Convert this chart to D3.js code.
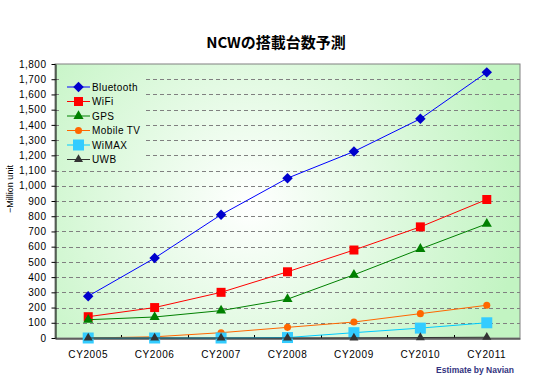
<!DOCTYPE html>
<html>
<head>
<meta charset="utf-8">
<script src="https://cdn.jsdelivr.net/npm/d3@7"></script>
<style>
  body { margin: 0; background: #fff; }
  text { font-family: "Liberation Sans", Arial, sans-serif; }
</style>
</head>
<body>
<div id="chart"></div>
<script>
// data (million units)
const years = ["CY2005", "CY2006", "CY2007", "CY2008", "CY2009", "CY2010", "CY2011"];
const bluetooth = [275, 525, 810, 1050, 1225, 1440, 1745];
const wifi = [140, 200, 300, 435, 578, 730, 910];
const gps = [120, 138, 180, 255, 415, 585, 750];
const mobileTV = [0, 8, 35, 70, 105, 160, 215];
const wimax = [0, 0, 0, 3, 35, 65, 100];
const uwb = [0, 0, 0, 0, 1, 3, 5];
const yTicks = d3.range(0, 1801, 100);

const series = [
  { name: "Bluetooth", values: bluetooth, color: "#0000ff", mark: "#0000cc", shape: "diamond", size: 10 },
  { name: "WiFi", values: wifi, color: "#ff0000", mark: "#ff0000", shape: "square", size: 9 },
  { name: "GPS", values: gps, color: "#008000", mark: "#008000", shape: "triangle", size: 9 },
  { name: "Mobile TV", values: mobileTV, color: "#ff6600", mark: "#ff6600", shape: "circle", size: 7 },
  { name: "WiMAX", values: wimax, color: "#00ccff", mark: "#33ccff", shape: "square", size: 11 },
  { name: "UWB", values: uwb, color: "#333333", mark: "#333333", shape: "triangle", size: 8 }
];

const width = 547, height = 377;
const plotL = 55, plotR = 520, plotT = 64, plotB = 338;

const svg = d3.select("#chart")
  .append("svg")
  .attr("width", width)
  .attr("height", height);

const defs = svg.append("defs");
const grad = defs.append("radialGradient")
  .attr("id", "bg")
  .attr("gradientUnits", "userSpaceOnUse")
  .attr("cx", 250).attr("cy", 205).attr("r", 270);
grad.append("stop").attr("offset", "0%").attr("stop-color", "#ffffff");
grad.append("stop").attr("offset", "100%").attr("stop-color", "#c2f4c2");

const x = d3.scaleBand()
  .domain(years)
  .range([plotL, plotR]);

const y = d3.scaleLinear()
  .domain([0, 1800])
  .range([plotB, plotT]);

// plot area
svg.append("rect")
  .attr("x", plotL).attr("y", plotT)
  .attr("width", plotR - plotL).attr("height", plotB - plotT)
  .attr("fill", "url(#bg)")
  .attr("stroke", "#808080")
  .attr("stroke-width", 1);

// dashed gridlines
svg.append("g")
  .selectAll("line")
  .data(yTicks.filter(d => d > 0 && d < 1800))
  .enter()
  .append("line")
  .attr("x1", plotL).attr("x2", plotR)
  .attr("y1", d => Math.round(y(d)) + 0.5)
  .attr("y2", d => Math.round(y(d)) + 0.5)
  .attr("stroke", "#808080")
  .attr("stroke-dasharray", "4,3");

// legend backdrop hides the gridlines behind it
svg.append("rect")
  .attr("x", 62).attr("y", 74)
  .attr("width", 83).attr("height", 92)
  .attr("fill", "url(#bg)");

// axes
const yAxis = svg.append("g")
  .attr("transform", `translate(${plotL + 0.5},0)`)
  .call(d3.axisLeft(y).tickValues(yTicks).tickFormat(d3.format(",")).tickSizeInner(4).tickSizeOuter(0));
yAxis.select(".domain").attr("stroke", "#000");
yAxis.selectAll("text").attr("font-size", 10).attr("fill", "#000").attr("dx", -2)
  .attr("letter-spacing", 0.5);

const xAxis = svg.append("g")
  .attr("transform", `translate(0,${plotB + 0.5})`)
  .call(d3.axisBottom(x).tickSize(0).tickPadding(12));
xAxis.select(".domain").attr("stroke", "#000");
xAxis.selectAll("text").attr("font-size", 10).attr("fill", "#000").attr("letter-spacing", 0.6);

// tick marks between categories, pointing up
svg.append("g")
  .selectAll("line")
  .data(years.slice(1))
  .enter()
  .append("line")
  .attr("x1", d => Math.round(x(d)) + 0.5)
  .attr("x2", d => Math.round(x(d)) + 0.5)
  .attr("y1", plotB)
  .attr("y2", plotB - 3)
  .attr("stroke", "#000");

const cx = d => x(d) + x.bandwidth() / 2;

function symbolFor(s) {
  const area = s.size * s.size;
  if (s.shape === "diamond") return d3.symbol(d3.symbolSquare, area * 0.55)();
  if (s.shape === "square") return d3.symbol(d3.symbolSquare, area)();
  if (s.shape === "triangle") return d3.symbol(d3.symbolTriangle, area * 0.55)();
  return d3.symbol(d3.symbolCircle, area * 0.8)();
}

const line = d3.line()
  .x((v, i) => cx(years[i]))
  .y(v => y(v));

series.forEach(s => {
  const g = svg.append("g");
  g.append("path")
    .datum(s.values)
    .attr("d", line)
    .attr("fill", "none")
    .attr("stroke", s.color)
    .attr("stroke-width", 1);
  g.selectAll("path.m")
    .data(s.values)
    .enter()
    .append("path")
    .attr("class", "m")
    .attr("d", symbolFor(s))
    .attr("transform", (v, i) => `translate(${cx(years[i])},${y(v)})` + (s.shape === "diamond" ? " rotate(45)" : ""))
    .attr("fill", s.mark);
});

// legend
const legend = svg.append("g");
series.forEach((s, i) => {
  const ly = 87 + i * 14.5;
  legend.append("line")
    .attr("x1", 67).attr("x2", 90)
    .attr("y1", ly).attr("y2", ly)
    .attr("stroke", s.color)
    .attr("stroke-width", 1);
  legend.append("path")
    .attr("d", symbolFor(s))
    .attr("transform", `translate(78.5,${ly})` + (s.shape === "diamond" ? " rotate(45)" : ""))
    .attr("fill", s.mark);
  legend.append("text")
    .attr("x", 92).attr("y", ly + 3.5)
    .attr("font-size", 10)
    .attr("letter-spacing", 0.4)
    .text(s.name);
});

// title
svg.append("text")
  .attr("x", 276).attr("y", 48)
  .attr("text-anchor", "middle")
  .attr("font-size", 15)
  .attr("font-weight", "bold")
  .style("font-family", "'Noto Sans CJK JP', sans-serif")
  .text("NCWの搭載台数予測");

// y axis label
svg.append("text")
  .attr("transform", "rotate(-90)")
  .attr("x", -189).attr("y", 13)
  .attr("text-anchor", "middle")
  .attr("font-size", 9)
  .text("−Million unit");

// source note
svg.append("text")
  .attr("x", 514).attr("y", 373)
  .attr("text-anchor", "end")
  .attr("font-size", 8.5)
  .attr("font-weight", "bold")
  .attr("fill", "#333380")
  .text("Estimate by Navian");
</script>
</body>
</html>
